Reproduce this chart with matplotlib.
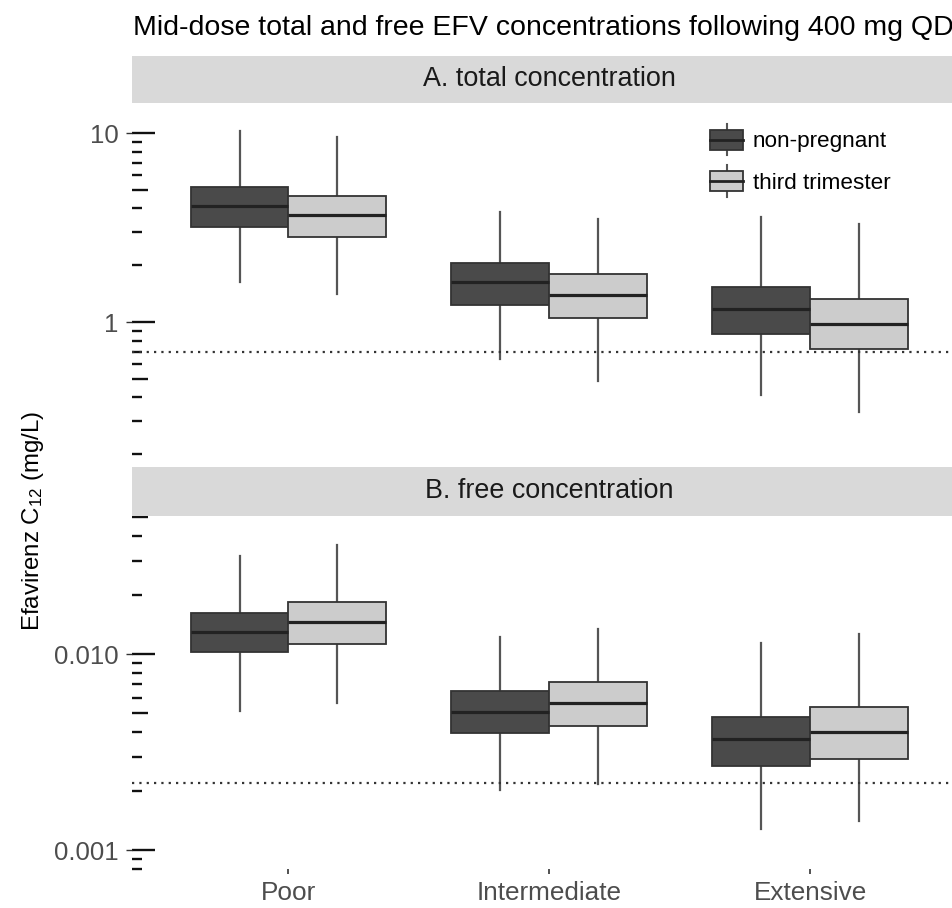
import numpy as np
import matplotlib
matplotlib.use('Agg')
import matplotlib.pyplot as plt
from matplotlib.patches import Rectangle, Patch
from matplotlib.lines import Line2D
from matplotlib.legend_handler import HandlerBase
from matplotlib.ticker import LogLocator, NullFormatter, FuncFormatter

plt.rcParams['font.family'] = ['Liberation Sans', 'DejaVu Sans']
plt.rcParams['mathtext.fontset'] = 'custom'
plt.rcParams['mathtext.rm'] = 'Liberation Sans'
plt.rcParams['mathtext.it'] = 'Liberation Sans:italic'

# dati (whisker basso, Q1, mediana, Q3, whisker alto)
categories = ['Poor', 'Intermediate', 'Extensive']
groups = ['non-pregnant', 'third trimester']

total_np_lo = [1.64, 0.64, 0.412]
total_np_q1 = [3.20, 1.23, 0.865]
total_np_med = [4.12, 1.63, 1.17]
total_np_q3 = [5.22, 2.07, 1.54]
total_np_hi = [10.3, 3.85, 3.62]

total_t3_lo = [1.41, 0.49, 0.336]
total_t3_q1 = [2.82, 1.05, 0.72]
total_t3_med = [3.71, 1.39, 0.975]
total_t3_q3 = [4.68, 1.80, 1.33]
total_t3_hi = [9.6, 3.52, 3.31]

free_np_lo = [0.0051, 0.00203, 0.00128]
free_np_q1 = [0.0102, 0.00395, 0.0027]
free_np_med = [0.0130, 0.00508, 0.00368]
free_np_q3 = [0.0163, 0.0065, 0.00479]
free_np_hi = [0.0318, 0.01217, 0.01137]

free_t3_lo = [0.00566, 0.00218, 0.0014]
free_t3_q1 = [0.0113, 0.00431, 0.00293]
free_t3_med = [0.0145, 0.00565, 0.0040]
free_t3_q3 = [0.0185, 0.00722, 0.00534]
free_t3_hi = [0.0361, 0.01346, 0.01265]

total_ref = 0.7
free_ref = 0.0022

dark = '#4a4a4a'
light = '#cccccc'
edge = '#333333'

W, H = 953, 908


def px_rect(l, t, r, b):
    return [l / W, 1 - b / H, (r - l) / W, (b - t) / H]


def make_stats(lo, q1, med, q3, hi):
    return [dict(whislo=a, q1=b, med=c, q3=d, whishi=e)
            for a, b, c, d, e in zip(lo, q1, med, q3, hi)]


class BoxHandler(HandlerBase):
    # chiave della legenda disegnata come un piccolo boxplot
    def create_artists(self, legend, orig_handle, xdescent, ydescent,
                       width, height, fontsize, trans):
        bh = fontsize * 0.9
        yc = -ydescent + height / 2
        x0 = -xdescent
        y0 = yc - bh / 2
        xm = x0 + width / 2
        wl = fontsize * 0.7
        w1 = Line2D([xm, xm], [yc - wl, y0], color='#555555', lw=1.5, transform=trans)
        w2 = Line2D([xm, xm], [y0 + bh, yc + wl], color='#555555', lw=1.5, transform=trans)
        rect = Rectangle((x0, y0), width, bh, facecolor=orig_handle.get_facecolor(),
                         edgecolor=edge, lw=1.3, transform=trans)
        med = Line2D([x0, x0 + width], [yc, yc], color='#222222', lw=2, transform=trans)
        return [w1, w2, rect, med]


def style_logaxis(ax, fmt):
    ax.set_yscale('log')
    for s in ax.spines.values():
        s.set_visible(False)
    ax.yaxis.set_major_locator(LogLocator(base=10, subs=(1.0,), numticks=20))
    ax.yaxis.set_major_formatter(FuncFormatter(fmt))
    ax.yaxis.set_minor_locator(LogLocator(base=10, subs=(5.0,), numticks=20))
    ax.yaxis.set_minor_formatter(NullFormatter())
    ax.tick_params(axis='y', which='major', direction='out', length=4.3, width=1,
                   color='#333333', labelsize=18.5, labelcolor='#4d4d4d', pad=5.5)
    ax.tick_params(axis='y', which='minor', direction='in', length=11.5, width=1.7,
                   color='#111111')
    sec = ax.secondary_yaxis('left', functions=(lambda v: v, lambda v: v))
    sec.spines['left'].set_visible(False)
    sec.yaxis.set_major_locator(LogLocator(base=10, subs=(1.0,), numticks=20))
    sec.yaxis.set_minor_locator(LogLocator(base=10, subs=(2, 3, 4, 6, 7, 8, 9), numticks=20))
    sec.yaxis.set_major_formatter(NullFormatter())
    sec.yaxis.set_minor_formatter(NullFormatter())
    sec.tick_params(which='major', direction='in', length=16.5, width=1.7, color='#111111')
    sec.tick_params(which='minor', direction='in', length=7, width=1.7, color='#111111')


def draw_panel(ax, np_stats, t3_stats, ref):
    x = np.arange(1, len(categories) + 1)
    bw = 0.375
    for g, (st, fc) in enumerate([(np_stats, dark), (t3_stats, light)]):
        ax.bxp(st, positions=x + (g - 0.5) * bw, widths=bw, patch_artist=True,
               showfliers=False, showcaps=False, manage_ticks=False,
               boxprops=dict(facecolor=fc, edgecolor=edge, linewidth=1.3, zorder=3),
               medianprops=dict(color='#222222', linewidth=2.3, zorder=4),
               whiskerprops=dict(color='#555555', linewidth=1.6, zorder=2))
    ax.axhline(ref, color='#333333', lw=1.6, ls=(0, (1, 2.3)), zorder=5)
    ax.set_xlim(0.4, len(categories) + 0.6)


def strip(rect, label):
    s = fig.add_axes(rect)
    s.set_facecolor('#d9d9d9')
    s.set_xticks([])
    s.set_yticks([])
    for sp in s.spines.values():
        sp.set_visible(False)
    s.text(0.5, 0.52, label, ha='center', va='center', fontsize=19.4,
           color='#1a1a1a', transform=s.transAxes)


fig = plt.figure(figsize=(W / 100, H / 100), dpi=100)

axA = fig.add_axes(px_rect(132, 103, 966.5, 460))
axB = fig.add_axes(px_rect(132, 517, 966.5, 869))

draw_panel(axA,
           make_stats(total_np_lo, total_np_q1, total_np_med, total_np_q3, total_np_hi),
           make_stats(total_t3_lo, total_t3_q1, total_t3_med, total_t3_q3, total_t3_hi),
           total_ref)
draw_panel(axB,
           make_stats(free_np_lo, free_np_q1, free_np_med, free_np_q3, free_np_hi),
           make_stats(free_t3_lo, free_t3_q1, free_t3_med, free_t3_q3, free_t3_hi),
           free_ref)

style_logaxis(axA, lambda v, p: f'{v:g}')
style_logaxis(axB, lambda v, p: f'{v:.3f}')
axA.set_ylim(0.1868, 14.45)
axB.set_ylim(0.0008, 0.0501)

axA.tick_params(axis='x', bottom=False, labelbottom=False)
axB.set_xticks(np.arange(1, len(categories) + 1), categories)
axB.tick_params(axis='x', direction='out', length=3.6, width=1.2, color='#333333',
                labelsize=18.8, labelcolor='#4d4d4d', pad=5)

strip(px_rect(132, 56, 966.5, 103), 'A. total concentration')
strip(px_rect(132, 467, 966.5, 516), 'B. free concentration')

handles = [Patch(facecolor=dark, label=groups[0]), Patch(facecolor=light, label=groups[1])]
axA.legend(handles=handles, handler_map={Patch: BoxHandler()}, loc='upper left',
           bbox_to_anchor=(710 / W, 1 - 127 / H), bbox_transform=fig.transFigure,
           frameon=False, fontsize=16.2, handlelength=1.47, handleheight=1.35,
           labelspacing=0.72, handletextpad=0.44, borderpad=0, borderaxespad=0)

fig.text(133 / W, 1 - 35 / H, 'Mid-dose total and free EFV concentrations following 400 mg QD',
         ha='left', va='baseline', fontsize=20.5, color='black')
fig.text(33 / W, 1 - 521 / H, r'Efavirenz C$_{\mathrm{12}}$ (mg/L)', rotation=90,
         ha='center', va='center', fontsize=17.3, color='black')

fig.savefig('out.png', dpi=100)
